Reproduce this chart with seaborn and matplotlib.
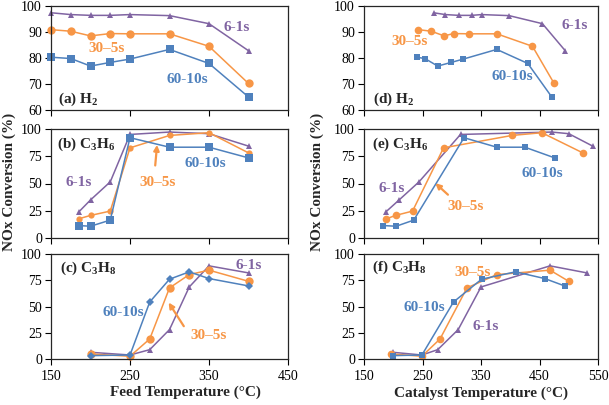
import matplotlib
matplotlib.use('Agg')
import matplotlib.pyplot as plt
import seaborn as sns

# ---------------- data ----------------
# H2 (panels a, d)
feed_h2 = [150, 175, 200, 225, 250, 300, 350, 400]
h2_61 = [97.4, 96.7, 96.4, 96.4, 96.7, 96.3, 93.2, 82.8]
h2_305 = [90.9, 90.3, 88.5, 89.4, 89.3, 89.3, 84.5, 70.2]
h2_6010 = [80.3, 79.8, 76.9, 78.3, 79.6, 83.3, 77.9, 65.0]
cat_h2_61 = [269, 289, 312, 334, 351, 398, 455, 494]
cat_h2_305 = [243, 265, 287, 303, 330, 377, 438, 475]
cat_h2_6010 = [240, 254, 276, 299, 320, 377, 430, 471]

# C3H6 (panels b, e)
feed_c3h6 = [185, 200, 225, 250, 300, 350, 400]
c3h6_61 = [23.8, 34.9, 51.5, 95.0, 97.2, 95.7, 84.3]
c3h6_305 = [17.6, 20.7, 24.7, 82.7, 94.1, 96.6, 78.1]
c3h6_6010 = [11.4, 10.8, 16.4, 92.0, 83.3, 83.3, 73.5]
cat_c3h6_61 = [187, 210, 244, 315, 471, 500, 541]
cat_c3h6_305 = [188, 204, 233, 286, 403, 454, 524]
cat_c3h6_6010 = [183, 205, 235, 321, 377, 425, 476]

# C3H8 (panels c, f)
feed_c3h8 = [200, 250, 275, 300, 325, 350, 400]
c3h8_61 = [6.4, 3.8, 8.9, 28.0, 68.6, 88.7, 82.0]
c3h8_305 = [4.8, 2.6, 19.1, 67.7, 80.4, 84.6, 74.0]
c3h8_6010 = [3.2, 3.8, 54.3, 76.0, 83.0, 76.6, 69.6]
cat_c3h8_61 = [199, 249, 276, 311, 350, 468, 531]
cat_c3h8_305 = [197, 249, 280, 326, 377, 468, 500]
cat_c3h8_6010 = [199, 249, 303, 351, 409, 459, 493]

series_names = ['6-1s', '30\u20135s', '60-10s']
yticks_h2 = [60, 70, 80, 90, 100]
yticks_hc = [0, 25, 50, 75, 100]
xticks_feed = [150, 250, 350, 450]
xticks_cat = [150, 250, 350, 450, 550]

# ---------------- style ----------------
sns.set_theme(style='ticks')
plt.rcParams['font.family'] = ['Liberation Serif', 'DejaVu Serif']
plt.rcParams['mathtext.default'] = 'regular'

BLUE = '#4F81BD'
ORANGE = '#F79646'
PURPLE = '#8064A2'

W, H = 609, 405
fig = plt.figure(figsize=(W / 100, H / 100), dpi=100)


def add_ax(x0, x1, y0, y1):
    return fig.add_axes([x0 / W, 1 - y1 / H, (x1 - x0) / W, (y1 - y0) / H])


rows = [(6, 110), (129, 238), (254, 359)]
cols = [(51, 288), (364, 598)]


def draw(ax, xs_list, ys_list, markers, sizes):
    colors = [PURPLE, ORANGE, BLUE]
    for xs, ys, c, m, s in zip(xs_list, ys_list, colors, markers, sizes):
        sns.lineplot(x=xs, y=ys, ax=ax, color=c, marker=m, markersize=s,
                     markeredgewidth=0, linewidth=1.1, sort=False,
                     estimator=None, clip_on=False, legend=False)


def style(ax, xlim, xticks, ylim, yticks, show_x):
    ax.set_xlim(*xlim)
    ax.set_ylim(*ylim)
    ax.set_xticks(xticks)
    ax.set_yticks(yticks)
    ax.tick_params(direction='out', length=4, width=0.8, labelsize=10,
                   colors='black', pad=2.5)
    if not show_x:
        ax.set_xticklabels([])
    else:
        ax.tick_params(axis='x', pad=4)
    for sp in ax.spines.values():
        sp.set_visible(True)
        sp.set_color('0.15')
        sp.set_linewidth(0.9)
    ax.set_xlabel('')
    ax.set_ylabel('')


lab = dict(fontsize=11, fontweight='bold', ha='center', va='center')
plab = dict(fontsize=11, fontweight='bold', ha='left', va='center')
arrow = dict(arrowstyle='-|>', color=ORANGE, lw=1.6, mutation_scale=8)

# (a)
ax = add_ax(cols[0][0], cols[0][1], *rows[0])
draw(ax, [feed_h2] * 3, [h2_61, h2_305, h2_6010], ['^', 'o', 's'], [5, 6, 5.5])
style(ax, (150, 450), xticks_feed, (60, 100), yticks_h2, False)
ax.text(385, 91.9, series_names[0], color=PURPLE, **lab)
ax.text(220, 83.6, series_names[1], color=ORANGE, **lab)
ax.text(323, 71.9, series_names[2], color=BLUE, **lab)
ax.text(0.03, 0.106, '(a) H$_2$', transform=ax.transAxes, **plab)

# (b)
ax = add_ax(cols[0][0], cols[0][1], *rows[1])
draw(ax, [feed_c3h6] * 3, [c3h6_61, c3h6_305, c3h6_6010], ['^', 'o', 's'], [5, 4.5, 5.5])
style(ax, (150, 450), xticks_feed, (0, 100), yticks_hc, False)
ax.text(185, 50.5, series_names[0], color=PURPLE, **lab)
ax.text(285, 50.5, series_names[1], color=ORANGE, **lab)
ax.text(345, 67.9, series_names[2], color=BLUE, **lab)
ax.annotate('', xy=(284.6, 88), xytext=(281.6, 64), arrowprops=arrow)
ax.text(0.024, 0.862, '(b) C$_3$H$_6$', transform=ax.transAxes, **plab)

# (c)
ax = add_ax(cols[0][0], cols[0][1], *rows[2])
draw(ax, [feed_c3h8] * 3, [c3h8_61, c3h8_305, c3h8_6010], ['^', 'o', 'D'], [5, 6, 4.5])
style(ax, (150, 450), xticks_feed, (0, 100), yticks_hc, True)
ax.text(400, 89.5, series_names[0], color=PURPLE, **lab)
ax.text(350, 22.4, series_names[1], color=ORANGE, **lab)
ax.text(241, 44.3, series_names[2], color=BLUE, **lab)
ax.annotate('', xy=(297, 56), xytext=(320, 29), arrowprops=arrow)
ax.text(0.038, 0.862, '(c) C$_3$H$_8$', transform=ax.transAxes, **plab)

# (d)
ax = add_ax(cols[1][0], cols[1][1], *rows[0])
draw(ax, [cat_h2_61, cat_h2_305, cat_h2_6010], [h2_61, h2_305, h2_6010], ['^', 'o', 's'], [5, 5.5, 4.5])
style(ax, (150, 550), xticks_cat, (60, 100), yticks_h2, False)
ax.text(511, 92.6, series_names[0], color=PURPLE, **lab)
ax.text(228, 86.4, series_names[1], color=ORANGE, **lab)
ax.text(403, 72.7, series_names[2], color=BLUE, **lab)
ax.text(0.038, 0.106, '(d) H$_2$', transform=ax.transAxes, **plab)

# (e)
ax = add_ax(cols[1][0], cols[1][1], *rows[1])
draw(ax, [cat_c3h6_61, cat_c3h6_305, cat_c3h6_6010], [c3h6_61, c3h6_305, c3h6_6010], ['^', 'o', 's'], [5, 5.5, 4.5])
style(ax, (150, 550), xticks_cat, (0, 100), yticks_hc, False)
ax.text(198, 45, series_names[0], color=PURPLE, **lab)
ax.text(324, 28.9, series_names[1], color=ORANGE, **lab)
ax.text(454, 59.2, series_names[2], color=BLUE, **lab)
ax.annotate('', xy=(268.5, 52), xytext=(297, 38), arrowprops=arrow)
ax.text(0.033, 0.858, '(e) C$_3$H$_6$', transform=ax.transAxes, **plab)

# (f)
ax = add_ax(cols[1][0], cols[1][1], *rows[2])
draw(ax, [cat_c3h8_61, cat_c3h8_305, cat_c3h8_6010], [c3h8_61, c3h8_305, c3h8_6010], ['^', 'o', 's'], [5, 5.5, 4.5])
style(ax, (150, 550), xticks_cat, (0, 100), yticks_hc, True)
ax.text(358, 31.4, series_names[0], color=PURPLE, **lab)
ax.text(335, 82.4, series_names[1], color=ORANGE, **lab)
ax.text(253, 49, series_names[2], color=BLUE, **lab)
ax.text(0.033, 0.871, '(f) C$_3$H$_8$', transform=ax.transAxes, **plab)

# axis titles
ylab = dict(fontsize=11, fontweight='bold', rotation=90, ha='center', va='center')
fig.text(9 / W, 1 - 182 / H, 'NOx Conversion (%)', **ylab)
fig.text(317 / W, 1 - 182 / H, 'NOx Conversion (%)', **ylab)
fig.text(185.5 / W, 1 - 392 / H, 'Feed Temperature (\u00b0C)', fontsize=11,
         fontweight='bold', ha='center', va='center')
fig.text(481 / W, 1 - 393 / H, 'Catalyst Temperature (\u00b0C)', fontsize=11,
         fontweight='bold', ha='center', va='center')

fig.savefig('out.png', dpi=100)
